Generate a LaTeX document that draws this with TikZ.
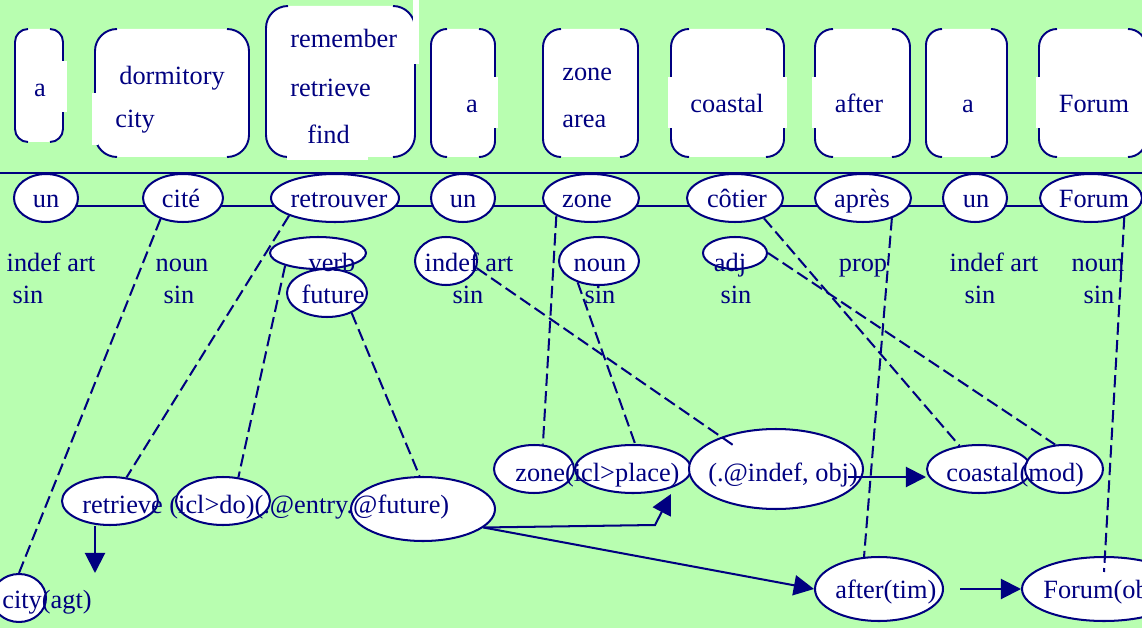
\documentclass[tikz,border=0pt]{standalone}
\usepackage{fontspec}
\setmainfont{Liberation Serif}
\usetikzlibrary{shapes.geometric,arrows.meta}
\definecolor{navy}{RGB}{0,0,128}
\definecolor{lawn}{RGB}{184,254,176}
\def\upx{0.02cm}
\pgfdeclarelayer{background}
\pgfsetlayers{background,main}
\def\brbox(#1,#2,#3,#4,#5){\fill[white,rounded corners=#5*\upx] (#1,#2) rectangle (#3,#4);
	\draw[brk,rounded corners=#5*\upx] (#1+#5,#2) -- (#1,#2) -- (#1,#4) -- (#1+#5,#4);
	\draw[brk,rounded corners=#5*\upx] (#3-#5,#2) -- (#3,#2) -- (#3,#4) -- (#3-#5,#4);}
\tikzset{
	brk/.style={draw=navy, line width=1.1pt},
	wrd/.style 2 args={ellipse, draw=navy, fill=white, line width=1.15pt, inner sep=0pt, minimum width=#1*\upx, minimum height=#2*\upx},
	lbl/.style={text=navy, inner sep=0pt, font=\fontsize{15}{18}\selectfont},
	algn/.style={draw=navy, line width=1.15pt, dash pattern=on 7pt off 3pt},
	rel/.style={draw=navy, line width=1.15pt, -{Triangle[length=11.5pt,width=11.5pt]}},
	seq/.style={draw=navy, line width=1.15pt}
}

\begin{document}
\begin{tikzpicture}[x=0.02cm, y=-0.02cm]
		%%%%% START %%%%%
		\useasboundingbox (0,0) rectangle (1142,628);
		\begin{pgfonlayer}{background}
			\fill[lawn] (0,0) rectangle (1142,628);
		\end{pgfonlayer}
		\clip (0,0) rectangle (1142,628);
		
		\brbox(15,29,63,142,13)
		\brbox(95,29,249,157,22)
		\brbox(266,6,415,157,22)
		\brbox(431,29,495,157,16)
		\brbox(543,29,638,157,18)
		\brbox(671,29,784,157,18)
		\brbox(815,29,910,157,18)
		\brbox(926,29,1007,157,16)
		\brbox(1039,29,1146,157,18)
		
		\fill[white] (60,61) rectangle (67,112);
		\fill[white] (92,93) rectangle (98,145);
		\fill[white] (413,0) rectangle (419,64);
		\fill[white] (287,154) rectangle (368,160);
		\fill[white] (492,77) rectangle (498,128);
		\fill[white] (668,77) rectangle (674,128);
		\fill[white] (781,77) rectangle (787,128);
		\fill[white] (812,77) rectangle (818,128);
		\fill[white] (1036,77) rectangle (1042,128);
		
		\node[lbl, anchor=base] (ga1) at (40,97) {a};
		\node[lbl, anchor=base west] (gdor) at (119,85) {dormitory};
		\node[lbl, anchor=base west] (gcit) at (115,128) {city};
		\node[lbl, anchor=base west] (grem) at (290,48) {remember};
		\node[lbl, anchor=base west] (gret) at (290,97) {retrieve};
		\node[lbl, anchor=base west] (gfin) at (307,144) {find};
		\node[lbl, anchor=base] (ga2) at (472,113) {a};
		\node[lbl, anchor=base west] (gzon) at (562,81) {zone};
		\node[lbl, anchor=base west] (gare) at (562,128) {area};
		\node[lbl, anchor=base] (gcoa) at (727,113) {coastal};
		\node[lbl, anchor=base] (gaft) at (859,113) {after};
		\node[lbl, anchor=base] (ga3) at (968,113) {a};
		\node[lbl, anchor=base] (gfor) at (1094,113) {Forum};
		
		\draw[seq] (0,173) -- (1142,173);
		
		\node[wrd={64}{48}] (un1) at (46,198) {};
		\node[wrd={80}{48}] (cit) at (183,198) {};
		\node[wrd={128}{48}] (rtv) at (335,198) {};
		\node[wrd={64}{48}] (un2) at (463,198) {};
		\node[wrd={96}{48}] (zon) at (591,198) {};
		\node[wrd={96}{48}] (cot) at (735,198) {};
		\node[wrd={96}{48}] (apr) at (863,198) {};
		\node[wrd={64}{48}] (un3) at (975,198) {};
		\node[wrd={102}{48}] (fru) at (1091,198) {};
		\begin{pgfonlayer}{background}
			\foreach \a/\b in {un1/cit,cit/rtv,rtv/un2,un2/zon,zon/cot,cot/apr,apr/un3,un3/fru}
				\draw[seq] ([yshift=-8*\upx]\a.center) -- ([yshift=-8*\upx]\b.center);
		\end{pgfonlayer}
		
		\node[lbl, anchor=base] (fun1) at (46,208) {un};
		\node[lbl, anchor=base] (fcit) at (181,208) {cité};
		\node[lbl, anchor=base] (frtv) at (339,208) {retrouver};
		\node[lbl, anchor=base] (fun2) at (463,208) {un};
		\node[lbl, anchor=base] (fzon) at (587,208) {zone};
		\node[lbl, anchor=base] (fcot) at (737,208) {côtier};
		\node[lbl, anchor=base] (fapr) at (862,208) {après};
		\node[lbl, anchor=base] (fun3) at (976,208) {un};
		\node[lbl, anchor=base] (ffru) at (1094,208) {Forum};
		
		\node[wrd={96}{32}] (vrb) at (318,253) {};
		\node[wrd={80}{48}] (ftr) at (327,293) {};
		\node[wrd={62}{48}] (idf) at (446,261) {};
		\node[wrd={80}{48}] (nn2) at (599,261) {};
		\node[wrd={64}{32}] (adj) at (735,253) {};
		
		\node[lbl, anchor=base] (p1) at (51,271) {indef art};
		\node[lbl, anchor=base] (s1) at (28,303) {sin};
		\node[lbl, anchor=base] (p2) at (182,271) {noun};
		\node[lbl, anchor=base] (s2) at (179,303) {sin};
		\node[lbl, anchor=base] (p3) at (332,271) {verb};
		\node[lbl, anchor=base] (s3) at (333,303) {future};
		\node[lbl, anchor=base] (p4) at (469,271) {indef art};
		\node[lbl, anchor=base] (s4) at (468,303) {sin};
		\node[lbl, anchor=base] (p5) at (600,271) {noun};
		\node[lbl, anchor=base] (s5) at (600,303) {sin};
		\node[lbl, anchor=base] (p6) at (730,271) {adj};
		\node[lbl, anchor=base] (s6) at (736,303) {sin};
		\node[lbl, anchor=base] (p7) at (863,271) {prop};
		\node[lbl, anchor=base] (p8) at (994,271) {indef art};
		\node[lbl, anchor=base] (s8) at (980,303) {sin};
		\node[lbl, anchor=base] (p9) at (1098,271) {noun};
		\node[lbl, anchor=base] (s9) at (1099,303) {sin};
		
		\node[wrd={96}{48}] (ret) at (110,501) {};
		\node[wrd={94}{48}] (icl) at (223,501) {};
		\node[wrd={144}{64}] (fut) at (423,509) {};
		\node[wrd={80}{48}] (zn2) at (534,469) {};
		\node[wrd={116}{48}] (plc) at (633,469) {};
		\node[wrd={174}{80}] (obj) at (776,469) {};
		\node[wrd={104}{48}] (coa) at (979,469) {};
		\node[wrd={78}{48}] (mod) at (1064,469) {};
		\node[wrd={128}{64}] (aft) at (879,589) {};
		\node[wrd={164}{64}] (frm) at (1104,589) {};
		\node[wrd={54}{48}] (cty) at (19,598) {};
		
		\node[lbl, anchor=base west] (uret) at (82,513) {retrieve (icl>do)(.@entry.@future)};
		\node[lbl, anchor=base west] (uzon) at (515,481) {zone(icl>place)};
		\node[lbl, anchor=base west] (uobj) at (708,481) {(.@indef, obj)};
		\node[lbl, anchor=base west] (ucoa) at (946,481) {coastal(mod)};
		\node[lbl, anchor=base west] (uaft) at (835,598) {after(tim)};
		\node[lbl, anchor=base west] (ufrm) at (1043,598) {Forum(obj)};
		\node[lbl, anchor=base west] (ucty) at (2,608) {city(agt)};
		
		\draw[algn] (cit.-137) -- (cty.north);
		\draw[algn] (rtv.south west) -- (ret.55);
		\draw[algn] (vrb.-159) -- (icl.57);
		\draw[algn] (ftr.-39) -- (fut.96);
		\draw[algn] (zon.south west) -- (zn2.70);
		\draw[algn] (idf.-13) -- ([shift={(-43,-24)}]obj.center);
		\draw[algn] (nn2.-135) -- (plc.85);
		\draw[algn] (cot.-35) -- (coa.130);
		\draw[algn] (adj.east) -- (mod.110);
		\draw[algn] (apr.-35) -- (aft.115);
		\draw[algn] (fru.-30) -- ([shift={(0,16)}]frm.north);
		
		\coordinate (agtip) at (95,573);
		\coordinate (knee) at (655,525);
		\coordinate (plctip) at (671,494);
		\draw[rel] (ret.south -| agtip) -- (agtip);
		\draw[rel] (fut.-17) -- (knee) -- (plctip);
		\draw[rel] (fut.-17) -- (aft.west);
		\draw[rel] ([shift={(-16,8)}]obj.east) -- ([shift={(0,8)}]coa.west);
		\draw[rel] ([shift={(16,0)}]aft.east) -- (frm.west);
		
		%%%%% END %%%%%
	\end{tikzpicture}
\end{document}
